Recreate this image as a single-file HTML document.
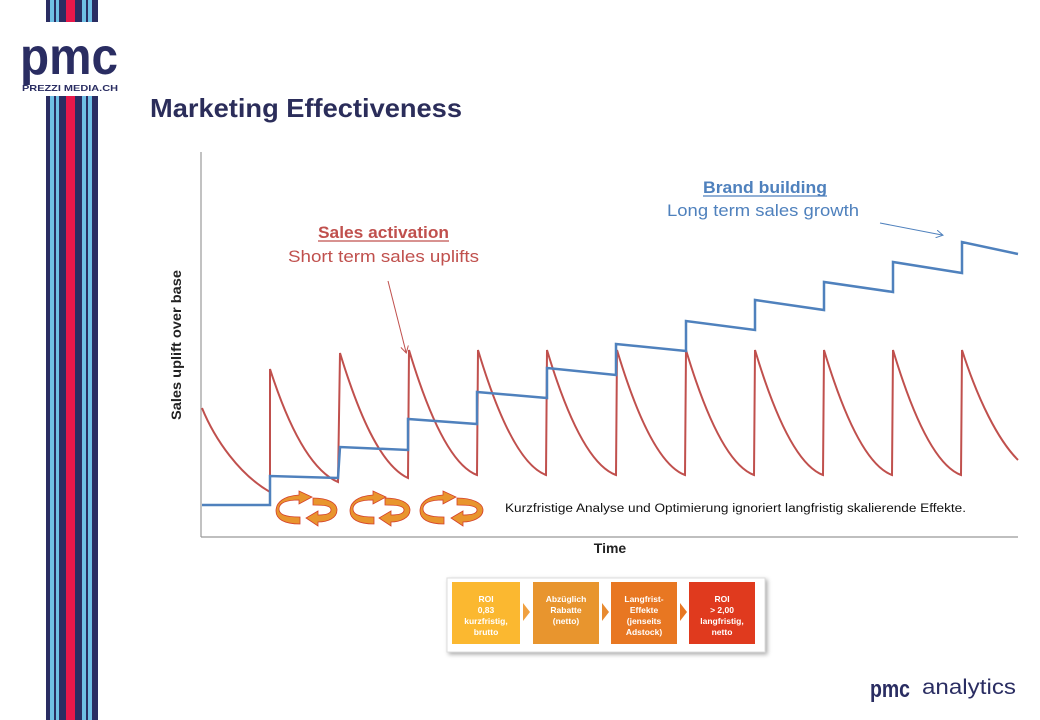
<!DOCTYPE html>
<html><head><meta charset="utf-8"><style>
body{margin:0;width:1040px;height:720px;background:#fff;overflow:hidden;font-family:"Liberation Sans",sans-serif}
</style></head><body>
<svg width="1040" height="720" xmlns="http://www.w3.org/2000/svg" style="position:absolute;left:0;top:0">
<defs>
<g id="stripes">
<rect x="46" width="52" height="1" fill="#2a2d62"/>
<rect x="50" width="4" height="1" fill="#6fbfe4"/>
<rect x="56" width="3" height="1" fill="#6fbfe4"/>
<rect x="66" width="9" height="1" fill="#e8184a"/>
<rect x="82" width="4" height="1" fill="#6fbfe4"/>
<rect x="88" width="4" height="1" fill="#6fbfe4"/>
</g>
<marker id="ar" markerWidth="8" markerHeight="8" refX="6" refY="4" orient="auto" markerUnits="userSpaceOnUse"><path d="M0,0 L7,4 L0,8" fill="none" stroke="#c0504d" stroke-width="1"/></marker>
<marker id="ab" markerWidth="8" markerHeight="8" refX="6" refY="4" orient="auto" markerUnits="userSpaceOnUse"><path d="M0,0 L7,4 L0,8" fill="none" stroke="#4f81bd" stroke-width="1"/></marker>
</defs>
<use href="#stripes" transform="translate(0,0) scale(1,22)"/>
<use href="#stripes" transform="translate(0,96) scale(1,624)"/>
<text x="20" y="74" font-size="52" font-weight="bold" fill="#2a2d62" textLength="98" lengthAdjust="spacingAndGlyphs">pmc</text>
<text x="22" y="91" font-size="8.5" font-weight="bold" fill="#2a2d62" textLength="96" lengthAdjust="spacingAndGlyphs">PREZZI MEDIA.CH</text>

<text x="150" y="117" font-size="26" font-weight="bold" fill="#2b2d5a" textLength="312" lengthAdjust="spacingAndGlyphs">Marketing Effectiveness</text>

<line x1="201" y1="152" x2="201" y2="537" stroke="#999" stroke-width="1.2"/>
<line x1="201" y1="537" x2="1018" y2="537" stroke="#999" stroke-width="1.2"/>
<text x="610" y="553" font-size="14" font-weight="bold" fill="#222" text-anchor="middle">Time</text>
<text transform="translate(181,345) rotate(-90)" font-size="14" font-weight="bold" fill="#222" text-anchor="middle" textLength="150" lengthAdjust="spacingAndGlyphs">Sales uplift over base</text>

<path d="M202,408 C215,440 240,475 270,492 L270,369 C288,425 310,470 338,482 L340,353 C358,412 380,465 408,478 L409,350 C427,410 450,465 477,475 L478,350 C496,410 519,465 546,475 L547,350 C565,410 588,465 616,475 L617,350 C635,410 658,465 685,475 L686,350 C704,410 727,465 754,475 L755,350 C773,410 796,465 823,475 L824,350 C842,410 865,465 892,475 L893,350 C911,410 934,465 961,475 L962,350 C978,400 998,440 1018,460" fill="none" stroke="#c0504d" stroke-width="2"/>

<path d="M202,505 L270,505 L270,476 L338,478 L340,447 L408,450 L408,419 L477,424 L477,392 L547,398 L547,368 L616,375 L616,344 L686,351 L686,321 L755,330 L755,300 L824,310 L824,282 L893,292 L893,262 L962,273 L962,242 L1018,254" fill="none" stroke="#4f81bd" stroke-width="2.5"/>

<text x="318" y="238" font-size="17" font-weight="bold" fill="#c0504d" textLength="131" lengthAdjust="spacingAndGlyphs">Sales activation</text>
<line x1="318" y1="241" x2="449" y2="241" stroke="#c0504d" stroke-width="1.2"/>
<text x="288" y="262" font-size="17" fill="#c0504d" textLength="191" lengthAdjust="spacingAndGlyphs">Short term sales uplifts</text>
<line x1="388" y1="281" x2="406" y2="352" stroke="#c0504d" stroke-width="1" marker-end="url(#ar)"/>

<text x="703" y="193" font-size="17" font-weight="bold" fill="#4f81bd" textLength="124" lengthAdjust="spacingAndGlyphs">Brand building</text>
<line x1="703" y1="196" x2="827" y2="196" stroke="#4f81bd" stroke-width="1.2"/>
<text x="667" y="216" font-size="17" fill="#4f81bd" textLength="192" lengthAdjust="spacingAndGlyphs">Long term sales growth</text>
<line x1="880" y1="223" x2="942" y2="235" stroke="#4f81bd" stroke-width="1" marker-end="url(#ab)"/>

<g fill="#e8952e" stroke="#d5402a" stroke-width="0.8">
<path d="M299,500 C284,500 279,504 279,509 C279,514 284,517 300,517 L300,524 C284,524 276,519 276,511 C276,502 284,496 299,495 L299,491 L312,497 L299,504 Z"/>
<path d="M313,498 C328,498 337,503 337,510 C337,518 328,522 318,522 L318,526 L306,518 L318,511 L318,515 C328,515 331,513 331,510 C331,506 326,505 313,505 Z"/>
<path d="M373,500 C358,500 353,504 353,509 C353,514 358,517 374,517 L374,524 C358,524 350,519 350,511 C350,502 358,496 373,495 L373,491 L386,497 L373,504 Z"/>
<path d="M385,498 C400,498 410,503 410,510 C410,518 400,522 391,522 L391,526 L379,518 L391,511 L391,515 C401,515 404,513 404,510 C404,506 398,505 385,505 Z"/>
<path d="M443,500 C428,500 423,504 423,509 C423,514 428,517 444,517 L444,524 C428,524 420,519 420,511 C420,502 428,496 443,495 L443,491 L456,497 L443,504 Z"/>
<path d="M457,498 C472,498 483,503 483,510 C483,518 472,522 463,522 L463,526 L451,518 L463,511 L463,515 C473,515 477,513 477,510 C477,506 470,505 457,505 Z"/>
</g>
<text x="505" y="512" font-size="11.5" fill="#111" textLength="461" lengthAdjust="spacingAndGlyphs">Kurzfristige Analyse und Optimierung ignoriert langfristig skalierende Effekte.</text>

<rect x="447" y="578" width="318" height="74" fill="#fff" stroke="#ddd" style="filter:drop-shadow(2px 2px 2px #aaa)"/>
<rect x="452" y="582" width="68" height="62" fill="#fbb830"/>
<polygon points="523,603 530,612 523,621" fill="#f0a040"/>
<rect x="533" y="582" width="66" height="62" fill="#e8952e"/>
<polygon points="602,603 609,612 602,621" fill="#e88a30"/>
<rect x="611" y="582" width="66" height="62" fill="#e87722"/>
<polygon points="680,603 687,612 680,621" fill="#e87722"/>
<rect x="689" y="582" width="66" height="62" fill="#e03a1e"/>
<g font-size="8.5" font-weight="bold" fill="#fff" text-anchor="middle">
<text x="486" y="602">ROI</text><text x="486" y="613">0,83</text><text x="486" y="624">kurzfristig,</text><text x="486" y="635">brutto</text>
<text x="566" y="602">Abzüglich</text><text x="566" y="613">Rabatte</text><text x="566" y="624">(netto)</text>
<text x="644" y="602">Langfrist-</text><text x="644" y="613">Effekte</text><text x="644" y="624">(jenseits</text><text x="644" y="635">Adstock)</text>
<text x="722" y="602">ROI</text><text x="722" y="613">&gt; 2,00</text><text x="722" y="624">langfristig,</text><text x="722" y="635">netto</text>
</g>

<text x="870" y="697" font-size="24" font-weight="bold" fill="#2a2d62" textLength="40" lengthAdjust="spacingAndGlyphs">pmc</text>
<text x="922" y="694" font-size="21" fill="#2a2d62" textLength="94" lengthAdjust="spacingAndGlyphs">analytics</text>
</svg>
</body></html>
